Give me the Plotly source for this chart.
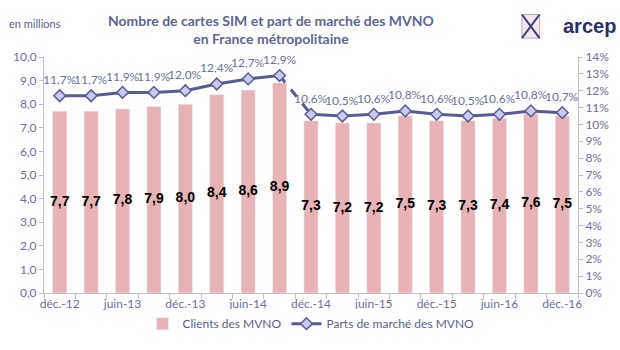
import plotly.graph_objects as go

categories = ["déc.-12", "mars-13", "juin-13", "sept.-13", "déc.-13", "mars-14", "juin-14", "sept.-14",
              "déc.-14", "mars-15", "juin-15", "sept.-15", "déc.-15", "mars-16", "juin-16", "sept.-16", "déc.-16"]
clients = [7.7, 7.7, 7.8, 7.9, 8.0, 8.4, 8.6, 8.9, 7.3, 7.2, 7.2, 7.5, 7.3, 7.3, 7.4, 7.6, 7.5]
parts = [11.7, 11.7, 11.9, 11.9, 12.0, 12.4, 12.7, 12.9, 10.6, 10.5, 10.6, 10.8, 10.6, 10.5, 10.6, 10.8, 10.7]
break_after = 7  # dashed link between sept.-14 and déc.-14

x = list(range(len(categories)))
fmt = lambda v: f"{v:.1f}".replace(".", ",")

BAR = "#E8B3B6"
LINE = "#5A5B95"
MARK = "#C9CAF0"
TXT = "#6B6F9C"
AX = "#BFBFC8"

fig = go.Figure()
fig.add_trace(go.Bar(x=x, y=clients, name="Clients des MVNO", marker_color=BAR, width=0.45,
                     hoverinfo="skip"))
# labels in the middle of bars
fig.add_trace(go.Scatter(x=x, y=[v / 2 for v in clients], mode="text",
                         text=[fmt(v) for v in clients], showlegend=False,
                         textfont=dict(family="Liberation Sans", size=14, color="black", weight="bold")))
# line: solid parts with a break, dashed link
lx = x[:break_after + 1] + [None] + x[break_after + 1:]
ly = parts[:break_after + 1] + [None] + parts[break_after + 1:]
fig.add_trace(go.Scatter(x=x[break_after:break_after + 2], y=parts[break_after:break_after + 2],
                         mode="lines", line=dict(color=LINE, width=3, dash="dash"),
                         showlegend=False, yaxis="y2"))
fig.add_trace(go.Scatter(x=lx, y=ly, mode="lines+markers", name="Parts de marché des MVNO",
                         line=dict(color=LINE, width=3),
                         marker=dict(symbol="diamond", size=9, color=MARK, line=dict(color=LINE, width=1.5)),
                         yaxis="y2"))

annotations = [
    dict(xref="x", yref="y2", x=xi, y=v, text=fmt(v) + "%", showarrow=False, yshift=16,
         font=dict(family="Lato", size=12, color=TXT))
    for xi, v in zip(x, parts)
]
annotations += [
    dict(text="<b>Nombre de cartes SIM et part de marché des MVNO<br>en France métropolitaine</b>",
         xref="paper", yref="paper", x=0.425, y=1.115, xanchor="center", yanchor="middle",
         showarrow=False, font=dict(family="Lato", size=14, color="#5D6690")),
    dict(text="en millions", xref="paper", yref="paper", x=-0.07, y=1.14, xanchor="left",
         yanchor="middle", showarrow=False, font=dict(family="Lato", size=11, color="#5A5F8A")),
    dict(text="<b>arcep</b>", xref="paper", yref="paper", x=1.075, y=1.13, xanchor="right",
         yanchor="middle", showarrow=False, font=dict(family="Liberation Sans", size=20, color="#2B2F6B")),
]

fig.update_layout(
    width=620, height=350,
    margin=dict(l=44, r=42, t=57, b=43),
    paper_bgcolor="white", plot_bgcolor="white",
    separators=", ",
    showlegend=True,
    legend=dict(orientation="h", x=0.5, xanchor="center", y=-0.13, yanchor="middle",
                font=dict(family="Lato", size=12, color="#5A5F8A"), traceorder="normal"),
    xaxis=dict(range=[-0.5, 16.5], tickmode="array", tickvals=x[::2], ticktext=categories[::2],
               ticks="", showgrid=False, showline=True, linecolor=AX, zeroline=False,
               tickfont=dict(family="Lato", size=12, color=TXT),
               minor=dict(tick0=-0.5, dtick=1, ticks="outside", ticklen=5, tickcolor=AX)),
    yaxis=dict(range=[0, 10], dtick=1, tickformat=".1f", showgrid=False, showline=True,
               linecolor=AX, ticks="outside", ticklen=4, tickcolor=AX, zeroline=False,
               tickfont=dict(family="Lato", size=12, color=TXT)),
    yaxis2=dict(range=[0, 14], dtick=1, ticksuffix="%", overlaying="y", side="right",
                showgrid=False, showline=True, linecolor=AX, ticks="outside", ticklen=4,
                tickcolor=AX, zeroline=False,
                tickfont=dict(family="Lato", size=12, color=TXT)),
    annotations=annotations,
    shapes=[
        dict(type="rect", xref="paper", yref="paper", x0=0.895, x1=0.928, y0=1.08, y1=1.18,
             line=dict(color="#C9A6B8", width=1), fillcolor="rgba(230,210,220,0.5)"),
        dict(type="line", xref="paper", yref="paper", x0=0.895, x1=0.928, y0=1.08, y1=1.18,
             line=dict(color="#3A3D7A", width=2)),
        dict(type="line", xref="paper", yref="paper", x0=0.895, x1=0.928, y0=1.18, y1=1.08,
             line=dict(color="#3A3D7A", width=2)),
    ],
)

fig.write_html("out.html")
